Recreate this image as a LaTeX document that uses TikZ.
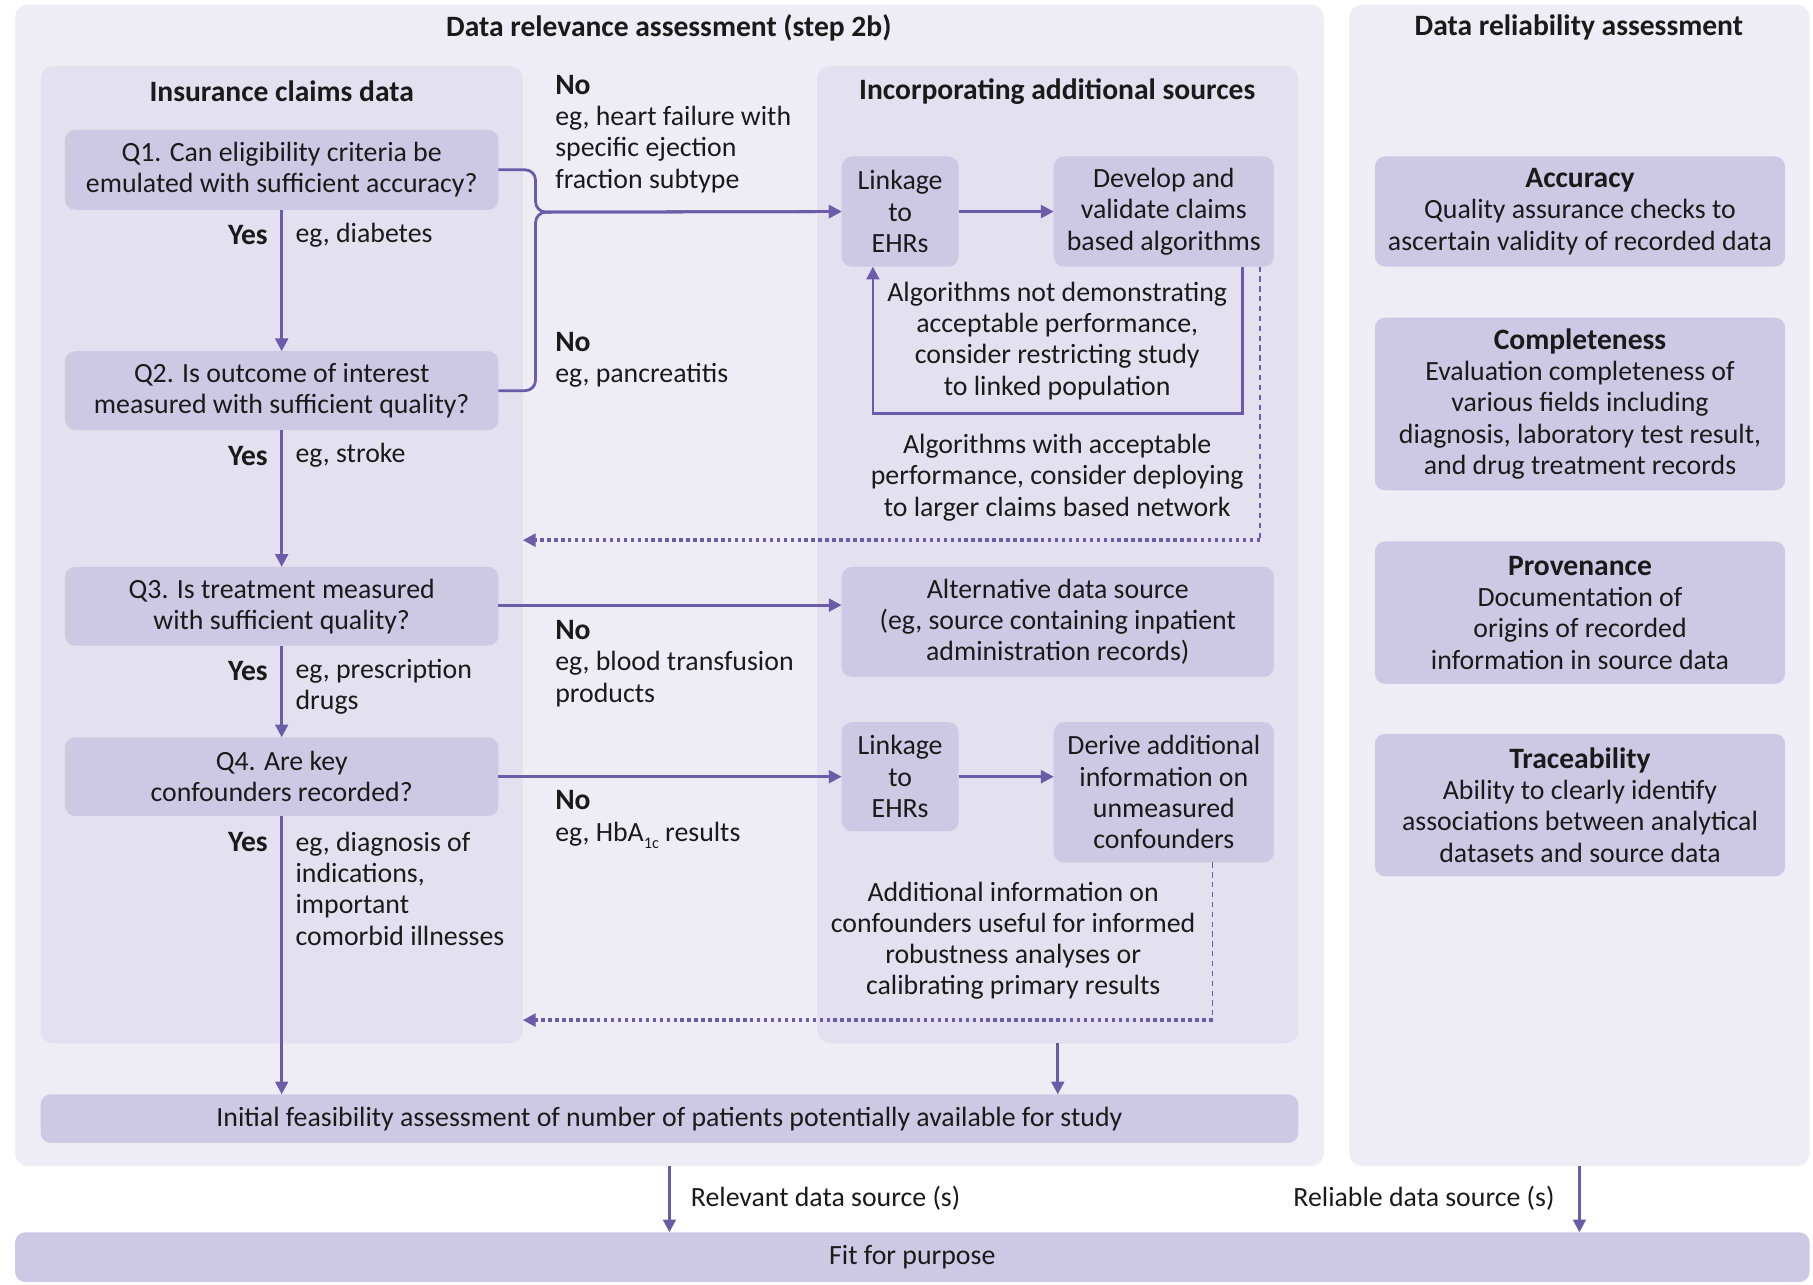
\documentclass[tikz,border=0pt]{standalone}
\usepackage{fontspec}
\setmainfont{Carlito}
\usetikzlibrary{arrows.meta}
\definecolor{panel}{HTML}{EEEDF6}
\definecolor{innerc}{HTML}{E3E0EF}
\definecolor{boxc}{HTML}{CDC8E3}
\definecolor{arr}{HTML}{6B5BA8}
\definecolor{txt}{HTML}{1A1A1A}
\newcommand{\bt}[1]{{\fontsize{25.5}{27}\selectfont\bfseries #1}}
\newcommand{\lowsub}[1]{\raisebox{-0.55ex}{\fontsize{14}{14}\selectfont #1}}
\begin{document}
\begin{tikzpicture}[x=1pt,y=-1pt,
 every node/.style={font=\fontsize{24}{27}\selectfont, text=txt, inner sep=0pt, outer sep=0pt},
 panelbox/.style={fill=panel, rounded corners=11pt},
 innerbox/.style={fill=innerc, rounded corners=11pt},
 qbox/.style={fill=boxc, rounded corners=9pt, align=center},
 ttl/.style={font=\fontsize{25.5}{27}\selectfont\bfseries},
 yeslbl/.style={anchor=east, font=\fontsize{25.5}{27}\selectfont\bfseries},
 lbl/.style={align=center},
 conn/.style={draw=arr, line width=2.4pt, -{Triangle[width=11pt,length=11pt]}},
 vdash/.style={draw=arr, line width=1.5pt, dash pattern=on 4.5pt off 4pt},
 hdots/.style={draw=arr, line width=3pt, dash pattern=on 3pt off 3pt, -{Triangle[width=11pt,length=11pt]}},
]
\useasboundingbox (0,0) rectangle (1564,1108.5);
% panels
\node[panelbox, minimum width=1129pt, minimum height=1002pt] (relp) at (577.5,505) {};
\node[panelbox, minimum width=397pt, minimum height=1002pt] (relyp) at (1362.5,505) {};
\node[innerbox, minimum width=416pt, minimum height=843pt] (claims) at (243,478.5) {};
\node[innerbox, minimum width=415pt, minimum height=843pt] (addp) at (912.5,478.5) {};
% titles
\node[ttl] (t1) at (577,24) {Data relevance assessment (step 2b)};
\node[ttl] (t2) at (1362,24) {Data reliability assessment};
\node[ttl] (t3) at (243,79) {Insurance claims data};
\node[ttl] (t4) at (912,79) {Incorporating additional sources};
% question boxes
\node[qbox, minimum width=374pt, minimum height=69pt] (q1) at (243,146.5) {Q1. Can eligibility criteria be\\emulated with sufficient accuracy?};
\node[qbox, minimum width=374pt, minimum height=68pt] (q2) at (243,337) {Q2. Is outcome of interest\\measured with sufficient quality?};
\node[qbox, minimum width=374pt, minimum height=68pt] (q3) at (243,523) {Q3. Is treatment measured\\with sufficient quality?};
\node[qbox, minimum width=374pt, minimum height=68pt] (q4) at (243,670) {Q4. Are key\\confounders recorded?};
% additional sources boxes
\node[qbox, minimum width=101pt, minimum height=95pt] (link1) at (776.5,182.5) {Linkage\\to\\EHRs};
\node[qbox, minimum width=190pt, minimum height=95pt] (dev) at (1004,182.5) {Develop and\\validate claims\\based algorithms};
\node[qbox, minimum width=373pt, minimum height=95pt] (alt) at (912.5,536.5) {Alternative data source\\(eg, source containing inpatient\\administration records)};
\node[qbox, minimum width=101pt, minimum height=94pt] (link2) at (776.5,670) {Linkage\\to\\EHRs};
\node[qbox, minimum width=190pt, minimum height=121pt] (derive) at (1004,683.5) {Derive additional\\information on\\unmeasured\\confounders};
\node[qbox, minimum width=1085pt, minimum height=42pt] (feas) at (577.5,965) {Initial feasibility assessment of number of patients potentially available for study};
% reliability boxes
\node[qbox, minimum width=354pt, minimum height=95pt] (acc) at (1363,182.5) {\bt{Accuracy}\\Quality assurance checks to\\ascertain validity of recorded data};
\node[qbox, minimum width=354pt, minimum height=149pt] (comp) at (1363,348.5) {\bt{Completeness}\\Evaluation completeness of\\various fields including\\diagnosis, laboratory test result,\\and drug treatment records};
\node[qbox, minimum width=354pt, minimum height=123pt] (prov) at (1363,528.5) {\bt{Provenance}\\Documentation of\\origins of recorded\\information in source data};
\node[qbox, minimum width=354pt, minimum height=123pt] (trace) at (1363,694.5) {\bt{Traceability}\\Ability to clearly identify\\associations between analytical\\datasets and source data};
\node[qbox, minimum width=1548pt, minimum height=43pt] (fit) at (787,1084.5) {Fit for purpose};
% yes labels
\node[yeslbl] (y1) at (231,203) {Yes};
\node[anchor=west] (e1) at (255,203) {eg, diabetes};
\node[yeslbl] (y2) at (231,393) {Yes};
\node[anchor=west] (e2) at (255,393) {eg, stroke};
\node[yeslbl] (y3) at (231,579) {Yes};
\node[anchor=west, align=left] (e3) at (255,592.5) {eg, prescription\\drugs};
\node[yeslbl] (y4) at (231,726) {Yes};
\node[anchor=west, align=left] (e4) at (255,766.5) {eg, diagnosis of\\indications,\\important\\comorbid illnesses};
% no labels
\node[anchor=west, align=left] (n1) at (479,115.5) {\bt{No}\\eg, heart failure with\\specific ejection\\fraction subtype};
\node[anchor=west, align=left] (n2) at (479,310.5) {\bt{No}\\eg, pancreatitis};
\node[anchor=west, align=left] (n3) at (479,572.5) {\bt{No}\\eg, blood transfusion\\products};
\node[anchor=north west, align=left] (n4) at (479,682) {\bt{No}\\eg, HbA\lowsub{1c} results};
% explanatory texts
\node[lbl] (loopt) at (912,294) {Algorithms not demonstrating\\acceptable performance,\\consider restricting study\\to linked population};
\node[lbl] (algt) at (912,412) {Algorithms with acceptable\\performance, consider deploying\\to larger claims based network};
\node[lbl] (addt) at (874,811.5) {Additional information on\\confounders useful for informed\\robustness analyses or\\calibrating primary results};
\node[anchor=west] (rel) at (596,1034) {Relevant data source (s)};
\node[anchor=east] (reli) at (1341,1034) {Reliable data source (s)};
% corner coordinates of the dotted returns
\coordinate (c1) at ([xshift=83pt]dev.south |- 0,466);
\coordinate (c2) at ([xshift=42pt]derive.south |- 0,880);
% connectors
\draw[conn] (q1.south) -- (q2.north);
\draw[conn] (q2.south) -- (q3.north);
\draw[conn] (q3.south) -- (q4.north);
\draw[conn] (q4.south) -- (q4.south |- feas.north);
\draw[conn, rounded corners=9pt] (q1.east) -- (462,146.5) -- (462,183) -- (link1.west);
\draw[conn, rounded corners=9pt] (q2.east) -- (462,337) -- (462,183) -- (link1.west);
\draw[conn] (link1.east) -- (dev.west);
\draw[conn] ([xshift=68pt]dev.south) -- ++(0,127) -| ([xshift=-23.5pt]link1.south);
\draw[vdash] ([xshift=83pt]dev.south) -- (c1);
\draw[hdots] (c1) -- (claims.east |- c1);
\draw[conn] (q3.east |- 0,522) -- (alt.west |- 0,522);
\draw[conn] (q4.east) -- (link2.west);
\draw[conn] (link2.east) -- (derive.west |- link2.east);
\draw[vdash] ([xshift=42pt]derive.south) -- (c2);
\draw[hdots] (c2) -- (claims.east |- c2);
\draw[conn] (addp.south) -- (addp.south |- feas.north);
\draw[conn] (relp.south) -- (relp.south |- fit.north);
\draw[conn] (relyp.south) -- (relyp.south |- fit.north);
\end{tikzpicture}
\end{document}
